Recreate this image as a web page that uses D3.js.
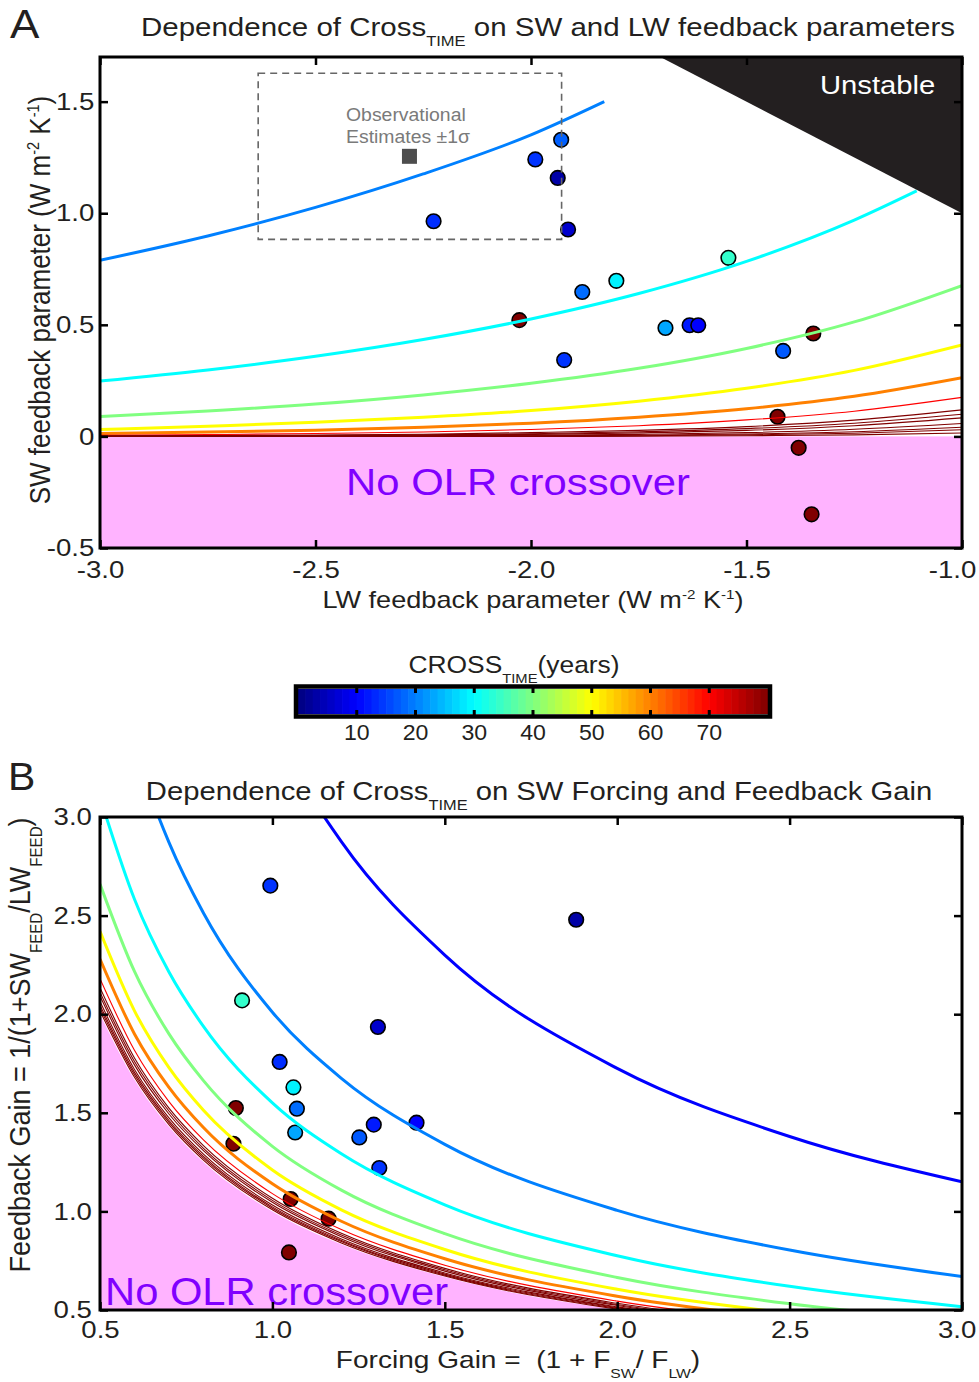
<!DOCTYPE html>
<html>
<head>
<meta charset="utf-8">
<script src="https://cdn.jsdelivr.net/npm/d3@7"></script>
<style>
body { margin: 0; background: #fff; }
svg { display: block; font-family: "Liberation Sans", Arial, Helvetica, sans-serif; }
svg text { white-space: pre; }
</style>
</head>
<body>
<svg id="chart" width="979" height="1382"></svg>
<script>
// ---- panel A : model feedback parameters (W m-2 K-1) and crossover time (years, from marker colour)
var modelLW = [-2.226, -1.990, -1.930, -1.938, -1.914, -1.542, -1.802, -1.881, -2.027,
               -1.688, -1.632, -1.612, -1.923, -1.415, -1.345, -1.428, -1.379, -1.349];
var modelSW = [0.964, 1.241, 1.329, 1.158, 0.927, 0.800, 0.697, 0.647, 0.521,
               0.486, 0.498, 0.498, 0.342, 0.383, 0.461, 0.088, -0.051, -0.349];
var modelYears = [13.5, 14, 17.5, 3, 6, 34, 29, 18.5, 80, 23, 12, 10, 14, 17, 80, 80, 80, 80];

// observational box and its centre
var obsLW = [-2.633, -1.929];
var obsSW = [0.883, 1.627];
var obsMean = [-2.282, 1.255];

// unstable corner (net feedback > 0)
var unstableLW = [-1.7, -1, -1];
var unstableSW = [1.7, 1.7, 1.0];

// contour lines of panel A, SW value read at each LW grid point (null = line not there)
var contourALevels = [20, 30, 40, 50, 60, 70, 80, 85, 90, 100, 110, 120, 140];
var contourALW = [-3, -2.75, -2.5, -2.25, -2, -1.75, -1.5, -1.25, -1];
var contourASW = [
  [0.789, 0.898, 1.026, 1.176, 1.351, null, null, null, null],
  [0.248, 0.298, 0.359, 0.434, 0.526, 0.640, 0.784, 0.969, null],
  [0.089, 0.114, 0.145, 0.186, 0.238, 0.305, 0.394, 0.513, 0.676],
  [0.031, 0.046, 0.063, 0.086, 0.116, 0.158, 0.216, 0.296, 0.410],
  [0.013, 0.020, 0.028, 0.041, 0.059, 0.086, 0.124, 0.180, 0.263],
  [0.005, 0.008, 0.013, 0.020, 0.031, 0.048, 0.074, 0.113, 0.175],
  [0.002, 0.004, 0.006, 0.010, 0.017, 0.027, 0.044, 0.073, 0.119],
  [0.001, 0.002, 0.004, 0.007, 0.012, 0.021, 0.035, 0.059, 0.099],
  [0.001, 0.002, 0.003, 0.005, 0.009, 0.016, 0.027, 0.048, 0.083],
  [0.000, 0.001, 0.001, 0.003, 0.005, 0.009, 0.017, 0.032, 0.058],
  [0.000, 0.000, 0.001, 0.001, 0.003, 0.005, 0.011, 0.021, 0.041],
  [0.000, 0.000, 0.000, 0.001, 0.001, 0.003, 0.007, 0.014, 0.030],
  [0.000, 0.000, 0.000, 0.000, 0.000, 0.001, 0.003, 0.007, 0.015]
];
// where the 20 and 30 year lines stop
var contourAEndLW = [-1.83, -1.105];
var contourAEndSW = [1.5, 1.1];

// ---- panel B : forcing gain / feedback gain of the models
var gainForcing = [1.021, 0.994, 1.881, 1.306, 0.912, 1.061, 1.071, 0.887, 1.066,
                   1.294, 1.418, 1.310, 1.252, 0.894, 1.053, 1.163, 1.048];
var gainFeedback = [1.758, 2.652, 2.479, 1.935, 2.070, 1.629, 1.521, 1.343, 1.400,
                    1.440, 1.450, 1.220, 1.375, 1.524, 1.063, 0.963, 0.792];
var gainYears = [13.5, 14, 3, 6, 34, 29, 18.5, 80, 23, 12, 10, 14, 17, 80, 80, 80, 80];

var contourBLevels = [10, 20, 30, 40, 50, 60, 70, 80, 85, 90, 100, 110, 120, 140];
var contourBX = [0.5, 0.6, 0.7, 0.8, 1.0, 1.2, 1.5, 2.0, 2.5, 3.0];
var contourBY = [
  [6.900, 5.750, 4.929, 4.313, 3.450, 2.875, 2.300, 1.725, 1.380, 1.150],
  [4.020, 3.350, 2.871, 2.513, 2.010, 1.675, 1.340, 1.005, 0.804, 0.670],
  [3.100, 2.583, 2.214, 1.938, 1.550, 1.292, 1.033, 0.775, 0.620, 0.517],
  [2.660, 2.217, 1.900, 1.663, 1.330, 1.108, 0.887, 0.665, 0.532, 0.443],
  [2.420, 2.017, 1.729, 1.513, 1.210, 1.008, 0.807, 0.605, 0.484, 0.403],
  [2.280, 1.900, 1.629, 1.425, 1.140, 0.950, 0.760, 0.570, 0.456, 0.380],
  [2.180, 1.817, 1.557, 1.363, 1.090, 0.908, 0.727, 0.545, 0.436, 0.363],
  [2.134, 1.778, 1.524, 1.334, 1.067, 0.889, 0.711, 0.534, 0.427, 0.356],
  [2.112, 1.760, 1.509, 1.320, 1.056, 0.880, 0.704, 0.528, 0.422, 0.352],
  [2.092, 1.743, 1.494, 1.308, 1.046, 0.872, 0.697, 0.523, 0.418, 0.349],
  [2.064, 1.720, 1.474, 1.290, 1.032, 0.860, 0.688, 0.516, 0.413, 0.344],
  [2.046, 1.705, 1.461, 1.279, 1.023, 0.853, 0.682, 0.512, 0.409, 0.341],
  [2.032, 1.693, 1.451, 1.270, 1.016, 0.847, 0.677, 0.508, 0.406, 0.339],
  [2.016, 1.680, 1.440, 1.260, 1.008, 0.840, 0.672, 0.504, 0.403, 0.336]
];
// edge of the no-crossover region
var noCrossY = [2.000, 1.667, 1.429, 1.250, 1.000, 0.833, 0.667, 0.500, 0.400, 0.333];

// ---- ticks
var ticksALW = [-3, -2.5, -2, -1.5, -1];
var ticksASW = [-0.5, 0, 0.5, 1.0, 1.5];
var ticksB = [0.5, 1.0, 1.5, 2.0, 2.5, 3.0];
var ticksColor = [10, 20, 30, 40, 50, 60, 70];

var ink = "#231f20";
var pink = "#ffb3ff";
var violet = "#8000ff";

// matlab style jet, clamped at 80 years
var jet = function (years) {
    var t = Math.max(0, Math.min(1, years / 80));
    var c = function (v) { return Math.round(255 * Math.max(0, Math.min(1, v))); };
    return d3.rgb(c(Math.min(4 * t - 1.5, -4 * t + 4.5)),
                  c(Math.min(4 * t - 0.5, -4 * t + 3.5)),
                  c(Math.min(4 * t + 0.5, -4 * t + 2.5))).formatHex();
};

var svg = d3.select("#chart");
svg.append("rect").attr("width", 979).attr("height", 1382).attr("fill", "#fff");

// text with sub / superscript parts, stretched horizontally like the original
var richText = function (parent, x, y, size, parts, opts) {
    opts = opts || {};
    var sx = opts.sx || 1.15, sy = opts.sy || 1;
    var tr = "translate(" + x + "," + y + ")" + (opts.rotate ? " rotate(" + opts.rotate + ")" : "") +
        " scale(" + sx + "," + sy + ")";
    var t = parent.append("text")
        .attr("transform", tr)
        .attr("text-anchor", opts.anchor || "middle")
        .attr("font-size", size)
        .attr("fill", opts.fill || ink);
    var shift = 0;
    parts.forEach(function (p) {
        if (typeof p === "string") p = [p, null];
        var target = p[1] === "sub" ? size * 0.4 : (p[1] === "sup" ? -size * 0.38 : 0);
        var ts = t.append("tspan").attr("dy", target - shift).text(p[0]);
        if (p[1]) ts.attr("font-size", size * 0.56);
        shift = target;
    });
    return t;
};

var drawFrame = function (g, x, y, xt, yt, fmtX, fmtY, padX, padY) {
    var r = x.range(), h = y.range();
    var styleAxis = function (a) {
        a.select(".domain").remove();
        a.selectAll(".tick line").attr("stroke", "#000").attr("stroke-width", 2.5);
        a.selectAll(".tick text").attr("font-size", 24).attr("fill", ink)
            .attr("font-family", "Liberation Sans, Arial, sans-serif")
            .attr("transform", "scale(1.15,1)");
    };
    var bottom = g.append("g").attr("transform", "translate(0," + h[0] + ")")
        .call(d3.axisBottom(x).tickValues(xt).tickSizeInner(-8).tickSizeOuter(0).tickPadding(padX).tickFormat(fmtX))
        .call(styleAxis);
    // last label sits against the page edge
    bottom.selectAll(".tick text").filter(function (d) { return d === xt[xt.length - 1]; })
        .attr("text-anchor", "end").attr("x", 12);
    g.append("g").attr("transform", "translate(0," + h[1] + ")")
        .call(d3.axisTop(x).tickValues(xt).tickSizeInner(-8).tickSizeOuter(0).tickFormat(""))
        .call(styleAxis);
    g.append("g").attr("transform", "translate(" + r[0] + ",0)")
        .call(d3.axisLeft(y).tickValues(yt).tickSizeInner(-8).tickSizeOuter(0).tickPadding(padY).tickFormat(fmtY))
        .call(styleAxis);
    g.append("g").attr("transform", "translate(" + r[1] + ",0)")
        .call(d3.axisRight(y).tickValues(yt).tickSizeInner(-8).tickSizeOuter(0).tickFormat(""))
        .call(styleAxis);
    g.append("rect")
        .attr("x", r[0]).attr("y", h[1])
        .attr("width", r[1] - r[0]).attr("height", h[0] - h[1])
        .attr("fill", "none").attr("stroke", "#000").attr("stroke-width", 3);
};

var addClip = function (id, x, y) {
    var r = x.range(), h = y.range();
    svg.append("clipPath").attr("id", id).append("rect")
        .attr("x", r[0]).attr("y", h[1]).attr("width", r[1] - r[0]).attr("height", h[0] - h[1]);
};

var dots = function (g, xs, ys, years, x, y) {
    g.selectAll(null)
        .data(xs.map(function (d, i) { return { x: d, y: ys[i], t: years[i] }; }))
        .enter().append("circle")
        .attr("cx", function (d) { return x(d.x); })
        .attr("cy", function (d) { return y(d.y); })
        .attr("r", 7.3)
        .attr("fill", function (d) { return jet(d.t); })
        .attr("stroke", "#000")
        .attr("stroke-width", 1.6);
};

// ================= panel A =================
var xA = d3.scaleLinear().domain([-3, -1]).range([100, 962]);
var yA = d3.scaleLinear().domain([-0.5, 1.7]).range([548, 57]);
addClip("clipA", xA, yA);

var gA = svg.append("g");
var plotA = gA.append("g").attr("clip-path", "url(#clipA)");

plotA.append("rect")
    .attr("x", xA(-3)).attr("y", yA(0))
    .attr("width", xA(-1) - xA(-3)).attr("height", yA(-0.5) - yA(0))
    .attr("fill", pink);

dots(plotA, modelLW, modelSW, modelYears, xA, yA);

var lineA = d3.line()
    .x(function (d) { return xA(d[0]); })
    .y(function (d) { return yA(d[1]); })
    .curve(d3.curveMonotoneX);

contourALevels.forEach(function (lev, i) {
    var pts = [];
    contourALW.forEach(function (lw, j) {
        if (contourASW[i][j] !== null) pts.push([lw, contourASW[i][j]]);
    });
    if (i < contourAEndLW.length) pts.push([contourAEndLW[i], contourAEndSW[i]]);
    plotA.append("path")
        .attr("d", lineA(pts))
        .attr("fill", "none")
        .attr("stroke", jet(lev))
        .attr("stroke-width", lev < 70 ? 3 : 1.1);
});

plotA.append("path")
    .attr("d", d3.line()(unstableLW.map(function (d, i) { return [xA(d), yA(unstableSW[i])]; })) + "Z")
    .attr("fill", ink);

plotA.append("rect")
    .attr("x", xA(obsLW[0])).attr("y", yA(obsSW[1]))
    .attr("width", xA(obsLW[1]) - xA(obsLW[0]))
    .attr("height", yA(obsSW[0]) - yA(obsSW[1]))
    .attr("fill", "none").attr("stroke", "#666").attr("stroke-width", 1.6)
    .attr("stroke-dasharray", "7,5");

plotA.append("rect")
    .attr("x", xA(obsMean[0]) - 7.5).attr("y", yA(obsMean[1]) - 7.5)
    .attr("width", 15).attr("height", 15)
    .attr("fill", "#4d4d4d");

richText(gA, 346, 121, 18.5, ["Observational"], { anchor: "start", sx: 1.05, fill: "#7a7a7a" });
richText(gA, 346, 143, 18.5, ["Estimates \u00b11\u03c3"], { anchor: "start", sx: 1.05, fill: "#7a7a7a" });
richText(gA, 820, 94, 25, ["Unstable"], { anchor: "start", sx: 1.17, fill: "#fff" });
richText(gA, 518, 495, 37, ["No OLR crossover"], { sx: 1.13, fill: violet });

drawFrame(gA, xA, yA, ticksALW, ticksASW,
    function (d) { return d.toFixed(1); },
    function (d) { return d === 0 ? "0" : d.toFixed(1); }, 13, 5);

richText(svg, 10, 38, 40, ["A"], { anchor: "start", sx: 1.1 });
richText(svg, 548, 36, 25, ["Dependence of Cross", ["TIME", "sub"], " on SW and LW feedback parameters"], { sx: 1.18 });
richText(svg, 533, 608, 24, ["LW feedback parameter (W m", ["-2", "sup"], " K", ["-1", "sup"], ")"], { sx: 1.13 });
richText(svg, 50, 300, 26, ["SW feedback parameter (W m", ["-2", "sup"], " K", ["-1", "sup"], ")"], { rotate: -90, sx: 1, sy: 1.15 });

// ================= colour bar =================
var xC = d3.scaleLinear().domain([0, 80]).range([298, 768]);
var gC = svg.append("g");
var steps = d3.range(64);
gC.selectAll(null).data(steps).enter().append("rect")
    .attr("x", function (i) { return xC(i * 80 / 64); })
    .attr("y", 689)
    .attr("width", xC(80 / 64) - xC(0) + 0.6)
    .attr("height", 25)
    .attr("fill", function (i) { return jet((i + 0.5) * 80 / 64); });
gC.append("rect").attr("x", 296).attr("y", 686.5).attr("width", 474).attr("height", 30)
    .attr("fill", "none").attr("stroke", "#000").attr("stroke-width", 4.5);
gC.selectAll(null).data(ticksColor).enter().append("rect")
    .attr("x", function (d) { return xC(d) - 1.5; })
    .attr("y", 688).attr("width", 3).attr("height", 5).attr("fill", "#000");
gC.selectAll(null).data(ticksColor).enter().append("rect")
    .attr("x", function (d) { return xC(d) - 1.5; })
    .attr("y", 710).attr("width", 3).attr("height", 5).attr("fill", "#000");
ticksColor.forEach(function (d) {
    richText(gC, xC(d), 740, 22, [String(d)], { sx: 1.05 });
});
richText(svg, 514, 673, 24, ["CROSS", ["TIME", "sub"], "(years)"], { sx: 1.1 });

// ================= panel B =================
var xB = d3.scaleLinear().domain([0.5, 3]).range([100, 962]);
var yB = d3.scaleLinear().domain([0.5, 3]).range([1310, 817]);
addClip("clipB", xB, yB);

var gB = svg.append("g");
var plotB = gB.append("g").attr("clip-path", "url(#clipB)");

plotB.append("path")
    .attr("d", d3.area()
        .x(function (d, i) { return xB(contourBX[i]); })
        .y0(yB(0.5))
        .y1(function (d) { return yB(d); })
        .curve(d3.curveMonotoneX)(noCrossY))
    .attr("fill", pink);

dots(plotB, gainForcing, gainFeedback, gainYears, xB, yB);

var lineB = d3.line()
    .x(function (d, i) { return xB(contourBX[i]); })
    .y(function (d) { return yB(d); })
    .curve(d3.curveMonotoneX);

contourBLevels.forEach(function (lev, i) {
    plotB.append("path")
        .attr("d", lineB(contourBY[i]))
        .attr("fill", "none")
        .attr("stroke", jet(lev))
        .attr("stroke-width", lev < 70 ? 3 : 1.1);
});

richText(gB, 105, 1305, 39, ["No OLR crossover"], { anchor: "start", sx: 1.07, fill: violet });

drawFrame(gB, xB, yB, ticksB, ticksB,
    function (d) { return d.toFixed(1); },
    function (d) { return d.toFixed(1); }, 11, 7);

richText(svg, 8, 790, 39, ["B"], { anchor: "start", sx: 1.05 });
richText(svg, 539, 800, 25, ["Dependence of Cross", ["TIME", "sub"], " on SW Forcing and Feedback Gain"], { sx: 1.17 });
richText(svg, 518, 1368, 24, ["Forcing Gain =  (1 + F", ["SW", "sub"], "/ F", ["LW", "sub"], ")"], { sx: 1.17 });
richText(svg, 30, 1045, 27, ["Feedback Gain = 1/(1+SW", ["FEED", "sub"], "/LW", ["FEED", "sub"], ")"], { rotate: -90, sx: 1, sy: 1.12 });
</script>
</body>
</html>
